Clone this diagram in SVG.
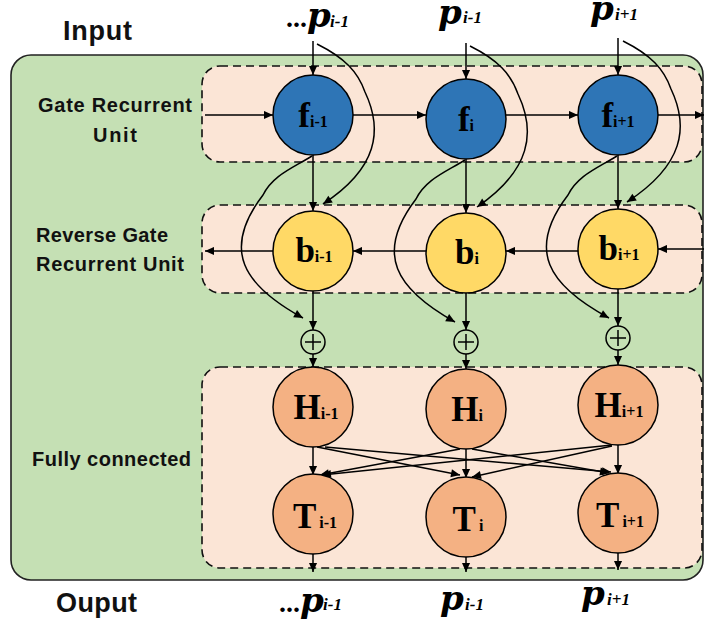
<svg xmlns="http://www.w3.org/2000/svg" width="704" height="628" viewBox="0 0 704 628">
<defs>
<marker id="ah" viewBox="0 0 10 10" refX="10" refY="5" markerWidth="10" markerHeight="9" markerUnits="userSpaceOnUse" orient="auto"><path d="M0,0.5 L10,5 L0,9.5 z" fill="#000"/></marker>
<style>
.outer{fill:#c5e0b4;stroke:#222;stroke-width:1.6}
.grp{fill:#fbe5d6;stroke:#111;stroke-width:1.6;stroke-dasharray:8 5}
.c{fill:none;stroke:#000;stroke-width:1.5;marker-end:url(#ah)}
.cn{fill:none;stroke:#000;stroke-width:1.5}
.nf{fill:#2e75b6;stroke:#000;stroke-width:1.5}
.nb{fill:#ffd966;stroke:#000;stroke-width:1.5}
.nh{fill:#f4b183;stroke:#000;stroke-width:1.5}
.plus{fill:none;stroke:#000;stroke-width:1.5}
.lab{font-family:"Liberation Sans",Arial,sans-serif;font-weight:bold;fill:#111}
.nl{font-family:"Liberation Serif","Times New Roman",serif;font-weight:bold;font-size:35px;text-anchor:middle;fill:#000}
.ns{font-size:16px}
.pp{font-family:"DejaVu Serif","Liberation Serif",serif;font-weight:bold;font-style:italic;font-size:34px;fill:#000}
.pd{font-family:"Liberation Serif","Times New Roman",serif;font-style:normal;font-size:28px}
.psub{font-family:"Liberation Serif","Times New Roman",serif;font-weight:bold;font-style:italic;font-size:17px}
</style>
</defs>

<g id="containers">
<rect class="outer" x="11" y="55" width="692" height="525" rx="20"/>
<rect class="grp" x="202" y="66" width="500" height="96" rx="18"/>
<rect class="grp" x="202" y="205" width="500" height="88" rx="18"/>
<rect class="grp" x="202" y="367" width="500" height="201" rx="18"/>
</g>

<g id="labels">
<text class="lab" x="63" y="40" font-size="27" textLength="69">Input</text>
<text class="lab" x="38" y="112" font-size="20" textLength="154">Gate Recurrent</text>
<text class="lab" x="93" y="142" font-size="20" textLength="44">Unit</text>
<text class="lab" x="36" y="242" font-size="20" textLength="132">Reverse Gate</text>
<text class="lab" x="36" y="271" font-size="20" textLength="148">Recurrent Unit</text>
<text class="lab" x="32" y="466" font-size="20" textLength="159">Fully connected</text>
<text class="lab" x="56" y="612" font-size="27" textLength="81">Ouput</text>
</g>

<g id="inputs">
<text class="pp" x="286" y="27"><tspan class="pd">...</tspan>p<tspan class="psub" x="330">i-1</tspan></text>
<text class="pp" x="438" y="24">p<tspan class="psub" x="463" y="23">i-1</tspan></text>
<text class="pp" x="590" y="20">p<tspan class="psub" x="615" y="20">i+1</tspan></text>
</g>

<g id="outputs">
<text class="pp" x="279" y="612"><tspan class="pd">...</tspan>p<tspan class="psub" x="323" y="610">i-1</tspan></text>
<text class="pp" x="440" y="610">p<tspan class="psub" x="465" y="610">i-1</tspan></text>
<text class="pp" x="581" y="605">p<tspan class="psub" x="607" y="605">i+1</tspan></text>
</g>

<g id="connectors">
<line class="c" x1="313" y1="41" x2="313" y2="75"/>
<line class="c" x1="466" y1="43" x2="466" y2="79"/>
<line class="c" x1="618" y1="38" x2="618" y2="75"/>
<path class="c" d="M317,44 C345,58 358,72 365,92 C383,130 378,168 323,204"/>
<path class="c" d="M470,46 C498,60 511,74 518,94 C536,132 531,170 477,207"/>
<path class="c" d="M623,41 C651,55 664,69 671,89 C689,127 684,165 627,202"/>
<line class="c" x1="205" y1="115" x2="273" y2="115"/>
<line class="c" x1="353" y1="115" x2="426" y2="115"/>
<line class="c" x1="506" y1="115" x2="578" y2="115"/>
<line class="c" x1="658" y1="115" x2="704" y2="115"/>
<line class="c" x1="313" y1="155" x2="313" y2="211"/>
<line class="c" x1="466" y1="159" x2="466" y2="213"/>
<line class="c" x1="618" y1="155" x2="618" y2="209"/>
<path class="c" d="M312,156 C293,168 273,175 263,195 C221,250 243,285 303,318"/>
<path class="c" d="M465,160 C446,172 426,179 416,199 C374,254 396,289 455,322"/>
<path class="c" d="M617,156 C598,168 578,175 568,195 C526,250 548,285 609,318"/>
<line class="c" x1="704" y1="249" x2="658" y2="249"/>
<line class="c" x1="578" y1="251" x2="506" y2="251"/>
<line class="c" x1="426" y1="251" x2="353" y2="251"/>
<line class="c" x1="273" y1="251" x2="205" y2="251"/>
<line class="c" x1="313" y1="291" x2="313" y2="330"/>
<line class="c" x1="466" y1="293" x2="466" y2="330"/>
<line class="c" x1="618" y1="289" x2="618" y2="326"/>
<line class="c" x1="313" y1="354" x2="313" y2="367"/>
<line class="c" x1="466" y1="354" x2="466" y2="369"/>
<line class="c" x1="618" y1="350" x2="618" y2="365"/>
<line class="c" x1="313" y1="447" x2="313" y2="475"/>
<line class="c" x1="466" y1="449" x2="466" y2="478"/>
<line class="c" x1="618" y1="445" x2="618" y2="474"/>
<line class="c" x1="317" y1="447" x2="460" y2="475"/>
<line class="c" x1="325" y1="447" x2="611" y2="472"/>
<line class="c" x1="460" y1="449" x2="320" y2="475"/>
<line class="c" x1="472" y1="449" x2="609" y2="473"/>
<line class="c" x1="612" y1="445" x2="322" y2="475"/>
<line class="c" x1="612" y1="446" x2="472" y2="477"/>
<line class="c" x1="313" y1="554" x2="313" y2="572"/>
<line class="c" x1="466" y1="557" x2="466" y2="572"/>
<line class="c" x1="618" y1="553" x2="618" y2="570"/>
</g>

<g id="f_im1"><circle class="nf" cx="313" cy="115" r="40"/><text class="nl" x="313" y="127">f<tspan class="ns">i-1</tspan></text></g>
<g id="f_i"><circle class="nf" cx="466" cy="119" r="40"/><text class="nl" x="466" y="131">f<tspan class="ns">i</tspan></text></g>
<g id="f_ip1"><circle class="nf" cx="618" cy="115" r="40"/><text class="nl" x="618" y="127">f<tspan class="ns">i+1</tspan></text></g>

<g id="b_im1"><circle class="nb" cx="313" cy="251" r="40"/><text class="nl" x="314" y="262">b<tspan class="ns">i-1</tspan></text></g>
<g id="b_i"><circle class="nb" cx="466" cy="253" r="40"/><text class="nl" x="467" y="264">b<tspan class="ns">i</tspan></text></g>
<g id="b_ip1"><circle class="nb" cx="618" cy="249" r="40"/><text class="nl" x="619" y="260">b<tspan class="ns">i+1</tspan></text></g>

<g id="plus_im1"><circle class="plus" cx="313" cy="342" r="12"/><path class="cn" d="M305,342 H321 M313,334 V350"/></g>
<g id="plus_i"><circle class="plus" cx="466" cy="342" r="12"/><path class="cn" d="M458,342 H474 M466,334 V350"/></g>
<g id="plus_ip1"><circle class="plus" cx="618" cy="338" r="12"/><path class="cn" d="M610,338 H626 M618,330 V346"/></g>

<g id="H_im1"><circle class="nh" cx="313" cy="407" r="40"/><text class="nl" x="316" y="419" font-size="31">H<tspan class="ns">i-1</tspan></text></g>
<g id="H_i"><circle class="nh" cx="466" cy="409" r="40"/><text class="nl" x="467" y="421" font-size="31">H<tspan class="ns">i</tspan></text></g>
<g id="H_ip1"><circle class="nh" cx="618" cy="405" r="40"/><text class="nl" x="619" y="417" font-size="31">H<tspan class="ns">i+1</tspan></text></g>

<g id="T_im1"><circle class="nh" cx="313" cy="514" r="40"/><text class="nl" x="315" y="528" font-size="32">T<tspan class="ns" dx="3">i-1</tspan></text></g>
<g id="T_i"><circle class="nh" cx="466" cy="517" r="40"/><text class="nl" x="468" y="531" font-size="32">T<tspan class="ns" dx="3">i</tspan></text></g>
<g id="T_ip1"><circle class="nh" cx="618" cy="513" r="40"/><text class="nl" x="620" y="527" font-size="32">T<tspan class="ns" dx="3">i+1</tspan></text></g>
</svg>
